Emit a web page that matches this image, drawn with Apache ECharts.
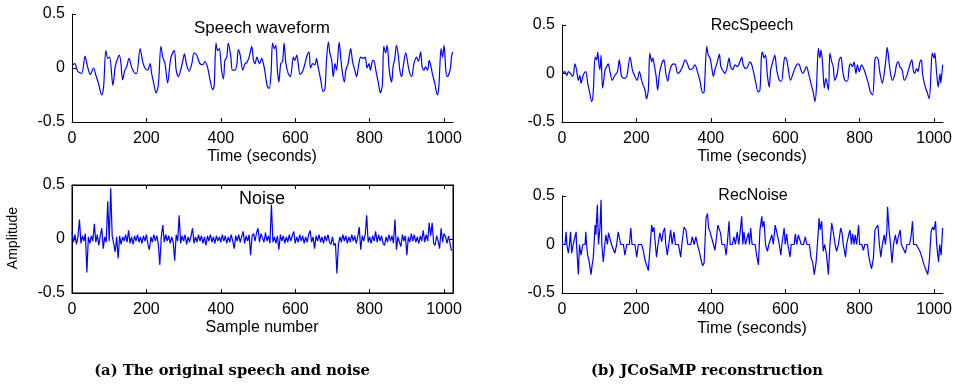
<!DOCTYPE html>
<html>
<head>
<meta charset="utf-8">
<script src="https://cdn.jsdelivr.net/npm/echarts@6/dist/echarts.min.js"></script>
<style>
  html, body { margin: 0; padding: 0; background: #fff; }
  #chart { width: 955px; height: 385px; }
</style>
</head>
<body>
<div id="chart"></div>
<script>
// samples run 0..1023, values as [sample, amplitude]
const sampleMax = 1024;
const xTickStep = 200;
const yTickStep = 0.5;

const speech = [
  [2,0.03],[8,0.04],[15,-0.03],[26,-0.05],[35,0.11],[42,0.01],[49,-0.06],[58,0.0],[64,-0.065],[71,-0.14],
  [80,-0.25],[85,-0.17],[91,0.16],[96,0.09],[101,0.10],[110,-0.16],[116,0.01],[120,0.06],[127,0.12],[131,0.06],
  [136,-0.11],[142,-0.02],[147,0.01],[153,0.09],[161,0.0],[170,-0.05],[174,-0.05],[183,0.18],[190,0.06],[196,0.0],
  [203,-0.02],[210,0.04],[214,-0.05],[219,-0.13],[226,-0.23],[232,-0.16],[239,0.20],[244,0.10],[250,0.04],[257,-0.14],
  [264,0.06],[268,0.12],[275,0.16],[280,-0.02],[286,-0.08],[292,-0.02],[298,0.07],[302,0.13],[308,0.03],[315,-0.03],
  [322,0.04],[328,0.14],[335,0.12],[344,0.04],[351,0.03],[357,0.06],[364,0.01],[371,-0.11],[378,-0.20],[382,-0.17],
  [387,0.23],[391,0.16],[396,0.18],[402,-0.02],[407,-0.10],[411,0.07],[416,0.10],[420,0.23],[427,0.10],[431,-0.02],
  [438,-0.02],[443,0.03],[447,0.17],[452,0.12],[459,-0.02],[465,0.04],[470,0.05],[476,0.10],[483,0.20],[488,0.07],
  [492,0.04],[497,0.10],[504,0.04],[510,0.09],[515,0.03],[518,-0.02],[525,-0.17],[530,-0.19],[535,-0.05],[539,0.23],
  [544,0.18],[548,0.21],[552,-0.02],[556,-0.13],[561,0.04],[566,0.06],[570,0.23],[575,0.04],[581,-0.05],[587,-0.08],
  [595,0.10],[599,0.07],[604,0.12],[608,0.04],[613,-0.06],[620,-0.03],[626,0.04],[632,0.12],[637,0.15],[641,0.0],
  [647,0.04],[653,0.03],[657,0.09],[662,0.0],[668,-0.10],[675,-0.22],[680,-0.19],[684,0.07],[689,0.24],[693,0.14],
  [698,0.07],[702,-0.08],[707,0.04],[711,-0.02],[718,0.24],[723,0.07],[727,-0.05],[732,-0.13],[736,-0.02],[742,0.04],
  [749,0.18],[754,0.06],[760,-0.02],[765,-0.08],[771,0.04],[776,0.10],[783,0.09],[788,0.10],[793,0.0],[798,0.04],
  [802,-0.02],[807,0.06],[811,0.07],[817,-0.03],[823,-0.13],[829,-0.23],[834,-0.16],[838,0.20],[843,0.14],[847,0.21],
  [853,-0.03],[859,-0.13],[863,0.01],[868,0.10],[872,0.21],[877,0.12],[881,-0.02],[886,-0.08],[890,0.01],[897,0.14],
  [904,0.01],[908,-0.05],[913,-0.08],[919,0.04],[926,0.10],[931,0.06],[937,0.15],[941,0.01],[946,-0.02],[950,0.01],
  [956,-0.02],[960,0.07],[965,0.01],[969,-0.06],[975,-0.14],[982,-0.25],[986,-0.17],[992,0.18],[996,0.10],[1000,0.21],
  [1005,-0.03],[1009,-0.08],[1016,-0.02],[1020,0.10],[1023,0.15]
];

// noise: one value every noiseStep samples
const noiseStep = 4;
const noiseValues = [
  0.06,-0.03,0.04,-0.05,0.02,0.18,-0.04,0.03,-0.02,0.05,-0.31,0.02,-0.04,0.03,-0.02,0.14,
  -0.03,0.04,-0.06,0.03,0.10,-0.09,0.02,-0.03,0.35,-0.02,0.47,0.03,-0.04,-0.12,0.02,-0.18,
  0.03,-0.05,0.02,-0.02,0.04,-0.03,0.08,-0.04,0.02,-0.05,0.03,-0.02,0.04,-0.03,0.02,-0.04,
  0.03,-0.02,0.04,-0.05,-0.10,0.02,-0.03,0.04,-0.02,0.03,-0.05,-0.24,0.02,0.13,-0.03,0.04,
  -0.02,0.03,-0.04,0.02,-0.03,-0.20,0.04,-0.02,0.22,-0.04,0.03,-0.02,0.04,-0.05,0.02,-0.03,
  0.03,0.10,-0.04,0.02,-0.03,0.04,-0.02,0.03,-0.04,0.02,-0.06,0.03,-0.02,0.04,-0.03,0.02,
  -0.04,0.03,-0.02,0.02,-0.03,0.04,-0.02,0.03,-0.04,0.02,-0.03,0.04,-0.02,-0.09,0.03,-0.02,
  0.04,-0.03,0.02,0.07,-0.04,0.03,-0.02,0.04,-0.15,0.03,0.05,-0.02,0.06,0.10,-0.03,0.05,
  0.04,-0.03,0.06,-0.02,0.03,-0.04,0.32,-0.03,0.02,-0.04,0.03,-0.10,0.04,-0.02,0.03,-0.04,
  0.02,-0.03,0.04,-0.02,0.03,0.07,-0.04,0.02,-0.03,0.04,-0.02,0.03,-0.04,0.02,-0.03,0.04,
  0.08,-0.03,0.02,-0.09,0.03,-0.02,0.04,-0.03,0.02,-0.04,0.03,-0.02,0.04,-0.03,-0.05,0.02,
  -0.06,-0.04,-0.32,-0.05,0.02,-0.03,0.04,-0.02,0.03,-0.04,0.02,-0.03,0.04,-0.02,0.03,-0.04,
  0.02,0.11,-0.10,0.03,-0.02,0.04,0.22,-0.03,0.02,-0.04,0.03,-0.02,0.07,-0.03,0.04,-0.02,
  0.03,-0.04,-0.06,0.02,-0.03,0.04,-0.02,0.03,-0.04,0.18,-0.10,0.02,-0.03,-0.07,0.04,-0.02,
  0.03,-0.15,0.02,-0.03,0.05,-0.02,0.04,-0.03,0.02,-0.04,0.03,-0.02,0.08,-0.03,0.04,-0.02,
  0.15,0.03,0.15,-0.04,-0.06,0.03,-0.02,-0.09,0.10,-0.03,0.05,0.02,-0.04,0.03,0.04,-0.11
];

const recSpeech = [
  [2,0.01],[8,0.02],[13,-0.02],[17,0.02],[23,0.0],[29,-0.03],[35,0.10],[39,0.04],[44,-0.07],[48,-0.02],
  [51,-0.10],[56,-0.03],[59,0.0],[64,0.02],[69,-0.10],[73,-0.17],[80,-0.29],[84,-0.19],[89,0.17],[93,0.14],
  [96,0.22],[99,0.10],[102,0.04],[105,0.19],[109,-0.15],[116,0.04],[120,0.07],[124,0.10],[129,0.02],[135,-0.07],
  [142,-0.02],[149,0.02],[154,0.14],[160,-0.03],[167,-0.05],[174,-0.03],[183,0.17],[189,0.04],[196,-0.03],[202,-0.07],
  [208,0.02],[214,-0.07],[218,-0.12],[223,-0.17],[227,-0.26],[232,-0.17],[236,0.21],[241,0.12],[244,0.16],[248,0.09],
  [253,-0.03],[257,-0.17],[262,0.0],[268,0.10],[274,0.14],[279,0.0],[284,-0.08],[288,0.0],[293,0.07],[299,0.10],
  [305,0.09],[311,0.0],[317,0.02],[324,0.07],[331,0.14],[337,0.10],[344,0.04],[351,0.05],[357,0.09],[364,0.02],
  [371,-0.08],[378,-0.20],[382,-0.19],[389,0.28],[393,0.19],[398,0.16],[402,0.07],[407,-0.03],[411,0.04],[416,0.10],
  [420,0.16],[423,0.20],[427,0.07],[434,0.02],[438,0.0],[443,0.05],[449,0.16],[453,0.07],[459,0.04],[465,0.09],
  [471,0.07],[478,0.12],[483,0.17],[487,0.09],[494,0.05],[499,0.07],[505,0.12],[509,0.10],[514,0.03],[521,-0.10],
  [527,-0.19],[532,-0.17],[536,0.17],[539,0.22],[543,0.16],[547,0.19],[552,-0.02],[557,-0.14],[561,0.04],[568,0.14],
  [572,0.19],[577,0.04],[584,-0.07],[590,-0.08],[595,0.07],[599,0.17],[604,0.14],[608,0.05],[614,-0.07],[621,0.0],
  [628,0.07],[633,0.10],[638,0.09],[642,0.04],[647,0.0],[651,0.02],[657,0.07],[664,-0.02],[669,-0.10],[675,-0.19],
  [680,-0.29],[684,-0.14],[689,0.26],[693,0.16],[696,0.24],[700,0.12],[705,-0.15],[709,-0.05],[716,-0.17],[720,0.21],
  [725,0.12],[729,0.07],[733,-0.07],[740,0.0],[745,0.14],[750,0.17],[754,0.04],[760,-0.07],[767,-0.08],[772,0.07],
  [776,0.10],[781,0.07],[785,0.12],[790,0.0],[794,0.09],[799,0.02],[805,0.09],[811,0.05],[817,-0.02],[823,-0.10],
  [829,-0.19],[835,-0.22],[841,0.14],[845,0.17],[850,0.14],[854,0.02],[861,-0.10],[866,0.0],[871,0.16],[874,0.27],
  [879,0.12],[883,0.0],[888,-0.07],[895,0.0],[899,0.09],[904,0.12],[908,0.07],[914,0.04],[920,-0.07],[926,-0.03],
  [932,0.05],[940,0.14],[944,0.04],[948,0.0],[953,0.05],[957,0.02],[962,0.12],[966,0.14],[969,0.0],[975,-0.12],
  [982,-0.20],[987,-0.26],[992,0.04],[995,0.21],[1000,0.16],[1002,0.21],[1007,0.0],[1011,-0.14],[1016,0.0],[1018,-0.10],
  [1023,0.09]
];

const recNoise = [
  [0,0],[8,0],[11,0.13],[13,0],[17,-0.09],[20,0],[23,0.13],[26,-0.09],[30,0],[35,0.08],
  [38,0.13],[39,0],[44,-0.31],[47,0],[51,-0.11],[56,0],[62,0],[64,0.13],[66,0],[69,-0.11],
  [73,-0.18],[78,-0.31],[81,-0.21],[84,-0.14],[89,0.20],[91,0.10],[95,0.41],[98,0],[102,0.17],[105,0.46],
  [107,0],[111,-0.18],[115,0],[118,0.10],[122,0],[125,0.12],[129,0.13],[133,0],[138,0],[142,-0.09],
  [147,0],[151,0.13],[154,0.15],[158,0],[165,0],[169,-0.11],[174,0],[181,0],[185,0.17],[188,0],
  [196,0],[201,-0.13],[205,0],[214,0],[219,-0.07],[223,-0.16],[227,-0.21],[232,-0.27],[236,-0.25],[241,0.20],
  [244,0.13],[247,0.18],[251,0],[254,-0.13],[258,0],[263,0.12],[268,0.03],[272,0.13],[276,0.17],[279,0],
  [283,-0.11],[287,0],[292,0.15],[296,0],[301,0.13],[305,0],[313,0],[319,-0.13],[322,0],[328,0.18],
  [333,0.15],[338,0],[346,0],[350,0.08],[355,0],[360,0.08],[364,0],[369,-0.07],[374,-0.16],[378,-0.22],
  [382,-0.19],[387,0.27],[391,0.32],[394,0.17],[398,0.13],[402,0.15],[407,0],[411,-0.06],[416,0.10],[419,0.20],
  [423,0.22],[426,0.12],[430,0],[437,0],[441,-0.11],[444,0],[449,0.24],[452,0],[458,0],[462,0.08],
  [466,0],[471,0.13],[475,0],[478,0.10],[483,0.29],[486,0],[489,0.13],[493,0],[498,0],[501,0.12],
  [504,0],[507,0.17],[511,0],[519,0],[523,-0.11],[528,-0.21],[532,0.15],[537,0.29],[539,0.18],[543,0.24],
  [547,0],[552,-0.07],[556,0],[561,0],[564,0.10],[568,0],[573,0.20],[577,0.22],[581,0.06],[584,0],
  [588,-0.11],[591,0],[597,0.17],[600,0],[604,0.11],[607,0],[613,-0.13],[616,0],[624,0],[627,0.11],
  [631,0],[635,0.10],[640,0.08],[643,0],[649,0],[654,0.08],[658,0],[665,0],[669,-0.13],[674,-0.19],
  [678,-0.31],[683,-0.18],[687,0.03],[691,0.27],[694,0.15],[698,0.24],[702,-0.07],[706,0],[711,-0.11],[716,-0.31],
  [720,0],[725,0.22],[729,0.13],[734,0],[738,-0.07],[743,0],[749,0.17],[753,0.11],[756,0],[762,-0.13],
  [765,0],[771,0.11],[774,0.15],[778,0],[781,0.11],[785,0],[788,0.10],[792,0],[797,0.20],[800,0],
  [806,0],[810,-0.06],[814,0],[821,0],[824,-0.11],[828,-0.19],[832,-0.25],[837,-0.14],[841,0.15],[846,0.17],
  [849,0.20],[853,0],[857,-0.13],[861,0],[866,0.10],[869,0],[873,0.13],[875,0.39],[879,0.15],[883,0],
  [887,-0.19],[891,0],[896,0.10],[900,0],[904,0.08],[909,0.15],[912,0],[917,0],[923,-0.09],[927,0],
  [934,0],[938,0.08],[942,0.24],[945,0],[952,0],[957,0],[962,-0.07],[968,-0.14],[973,-0.21],[978,-0.26],
  [983,-0.31],[987,-0.18],[992,0.13],[996,0.18],[1000,0.15],[1004,0.24],[1007,0],[1012,-0.18],[1015,0],[1019,-0.11],
  [1023,0.17]
];

const titles = ['Speech waveform', 'Noise', 'RecSpeech', 'RecNoise'];
const captions = ['(a) The original speech and noise', '(b) JCoSaMP reconstruction'];

const noise = noiseValues.map((v, i) => [i * noiseStep, v]);

const font = '"Liberation Sans", Arial, sans-serif';
const captionFont = 'bold 14.7px "DejaVu Serif", "Liberation Serif", serif';
const lineColor = '#0000ff';

const grids = [
  { left: 72, top: 14, width: 381, height: 108 },
  { left: 72, top: 185, width: 381, height: 108, show: true, borderColor: '#000', borderWidth: 1 },
  { left: 562, top: 25, width: 381, height: 97 },
  { left: 562, top: 196, width: 381, height: 97 },
];

function xAxisFor(gridIndex) {
  return {
    gridIndex,
    type: 'value',
    min: 0,
    max: sampleMax,
    interval: xTickStep,
    axisLine: { show: true, onZero: false, lineStyle: { color: '#000', width: 1 } },
    axisTick: { show: true, inside: true, length: 4, lineStyle: { color: '#000' } },
    axisLabel: {
      color: '#000',
      fontFamily: font,
      fontSize: 16,
      margin: 9,
      showMaxLabel: false,
      formatter: (v) => (v % xTickStep === 0 ? String(v) : ''),
    },
    splitLine: { show: false },
  };
}

function yAxisFor(gridIndex) {
  return {
    gridIndex,
    type: 'value',
    min: -0.5,
    max: 0.5,
    interval: yTickStep,
    axisLine: { show: true, onZero: false, lineStyle: { color: '#000', width: 1 } },
    axisTick: { show: true, inside: true, length: 4, lineStyle: { color: '#000' } },
    axisLabel: { color: '#000', fontFamily: font, fontSize: 16, margin: 7 },
    splitLine: { show: false },
  };
}

const xAxes = [0, 1, 2, 3].map(xAxisFor);
const yAxes = [0, 1, 2, 3].map(yAxisFor);
// the noise panel is boxed, with ticks on the top and right sides too
xAxes.push(Object.assign(xAxisFor(1), { position: 'top', axisLabel: { show: false } }));
yAxes.push(Object.assign(yAxisFor(1), { position: 'right', axisLabel: { show: false } }));

function lineSeries(data, idx, smooth) {
  return {
    type: 'line',
    data,
    xAxisIndex: idx,
    yAxisIndex: idx,
    showSymbol: false,
    symbol: 'none',
    smooth: smooth || false,
    lineStyle: { color: lineColor, width: 1.2 },
    animation: false,
  };
}

function label(text, x, y, size, extra) {
  return Object.assign({
    type: 'text',
    x, y,
    style: {
      text,
      fill: '#000',
      font: size + 'px ' + font,
      textAlign: 'center',
      textVerticalAlign: 'middle',
    },
    z: 10,
  }, extra || {});
}

const graphics = [
  label(titles[0], 262, 28, 17),
  label(titles[1], 262, 199, 18),
  label(titles[2], 752, 26, 16),
  label(titles[3], 753, 196, 16),
  label('Time (seconds)', 262, 157, 16),
  label('Sample number', 262, 328, 16),
  label('Time (seconds)', 752, 157, 16),
  label('Time (seconds)', 752, 329, 16),
  label('Amplitude', 13, 238, 14, { rotation: Math.PI / 2 }),
  {
    type: 'text', x: 232, y: 371,
    style: { text: captions[0], fill: '#000', font: captionFont, textAlign: 'center', textVerticalAlign: 'middle' },
  },
  {
    type: 'text', x: 707, y: 371,
    style: { text: captions[1], fill: '#000', font: captionFont, textAlign: 'center', textVerticalAlign: 'middle' },
  },
];

const chart = echarts.init(document.getElementById('chart'), null, { renderer: 'canvas' });
chart.setOption({
  animation: false,
  backgroundColor: '#fff',
  grid: grids,
  xAxis: xAxes,
  yAxis: yAxes,
  series: [
    lineSeries(speech, 0, 0.3),
    lineSeries(noise, 1),
    lineSeries(recSpeech, 2, 0.3),
    lineSeries(recNoise, 3),
  ],
  graphic: graphics,
});
</script>
</body>
</html>
